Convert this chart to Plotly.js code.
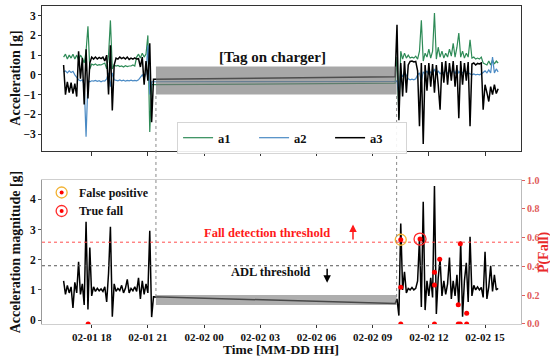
<!DOCTYPE html>
<html><head><meta charset="utf-8">
<script src="https://cdn.plot.ly/plotly-3.0.1.min.js"></script>
<style>html,body{margin:0;padding:0;background:#fff}#chart{width:550px;height:358px}</style>
</head><body><div id="chart"></div>
<script>
// time in hours since 02-01 00:00
const hours = [16.5,16.6,16.7,16.8,16.9,17.0,17.1,17.2,17.3,17.4,17.5,17.6,17.7,17.8,17.9,18.0,18.1,18.2,18.3,18.4,18.5,18.6,18.7,18.8,18.9,19.0,19.1,19.2,19.3,19.4,19.5,19.6,19.7,19.8,19.9,20.0,20.1,20.2,20.3,20.4,20.5,20.6,20.7,20.8,20.9,21.0,21.1,21.2,
  21.3,34.2,
  34.3,34.4,34.5,34.6,34.7,34.8,34.9,35.0,35.1,35.2,35.3,35.4,35.5,35.6,35.7,35.8,35.9,36.0,36.1,36.2,36.3,36.4,36.5,36.6,36.7,36.8,36.9,37.0,37.1,37.2,37.3,37.4,37.5,37.6,37.7,37.8,37.9,38.0,38.1,38.2,38.3,38.4,38.5,38.6,38.7,38.8,38.9,39.0,39.1,39.2,39.3,39.4,39.5,39.6,39.7];

const a1 = [0.9,1.05,0.8,1.0,0.85,1.05,0.8,1.0,0.75,1.0,0.85,0.6,1.2,2.46,0.3,0.55,0.5,0.55,0.48,0.52,0.5,0.55,0.6,0.3,1.0,2.76,0.3,0.5,0.45,0.48,0.42,0.45,0.4,0.46,0.42,0.45,0.45,0.5,0.45,0.9,1.05,0.85,1.1,0.9,1.05,2.0,-2.9,-0.5,
  -0.5,-0.42,
  0.9,-2.2,1.2,0.8,1.1,0.85,1.0,0.85,0.9,0.85,0.95,0.8,1.2,2.76,0.7,1.1,0.9,1.3,0.85,1.2,3.14,0.8,1.4,0.9,1.2,0.85,1.1,0.9,1.3,0.95,1.6,0.9,1.4,2.12,0.9,1.2,0.85,1.1,0.9,1.78,0.85,0.9,0.8,0.85,0.8,0.9,0.6,0.55,0.5,0.7,0.5,0.75,0.55,0.7,0.6];

const a2 = [0.15,0.2,0.1,0.2,0.12,0.18,0.0,-0.15,-0.25,-0.3,-0.25,-0.5,-3.13,-0.3,-0.35,-0.3,-0.32,-0.28,-0.33,-0.3,-0.35,-0.3,-0.32,-0.2,0.1,-0.6,0.1,-0.25,-0.28,-0.3,-0.26,-0.3,-0.27,-0.32,-0.28,-0.3,-0.27,-0.3,-0.28,-0.3,-0.25,-0.1,0.0,-0.15,0.05,1.5,-1.0,-0.35,
  -0.35,-0.33,
  -0.3,-1.0,0.1,-0.1,0.15,-0.05,-0.2,-0.25,-0.22,-0.25,-0.2,0.0,0.1,-0.3,0.15,0.05,0.2,0.0,0.15,0.05,0.3,0.0,0.2,0.05,0.15,0.1,0.25,0.05,0.2,0.1,0.25,0.05,0.3,0.1,0.2,0.1,0.2,0.15,0.1,0.05,0.0,0.05,0.0,0.03,0.0,0.05,0.15,0.2,0.1,0.25,0.1,0.9,0.1,0.3,0.15];

const a3 = [0.5,-1.0,-0.35,-0.9,-0.4,-0.95,-0.45,-1.1,1.2,-0.2,0.85,-1.5,1.3,-1.2,0.6,0.9,0.8,0.9,0.8,0.88,0.82,0.9,0.7,1.0,-1.0,1.5,-1.8,0.5,0.85,0.8,0.9,0.82,0.88,0.8,0.9,0.78,0.85,0.8,0.86,0.8,0.82,0.4,0.9,-0.5,0.7,-0.3,1.6,-2.4,
  -0.22,-0.1,
  2.54,-2.3,0.6,-1.1,0.7,-0.9,0.5,0.68,0.7,0.65,0.68,0.2,-2.6,0.6,-3.5,0.5,-0.8,0.6,-0.6,0.55,-0.9,0.5,-0.5,-1.77,0.65,-0.4,0.7,-0.5,0.6,-0.3,0.7,-0.6,0.5,-2.2,0.7,-0.5,0.6,-0.3,0.65,-2.6,0.55,0.6,0.5,0.58,0.55,0.6,-1.77,-0.5,-0.9,-1.35,-0.6,-1.0,-0.5,-0.95,-0.7];

const magnitude = [1.3,0.85,1.15,0.9,1.1,0.4,1.25,0.9,1.93,0.85,1.2,0.5,3.26,0.35,2.4,0.8,1.1,0.95,1.05,0.97,1.03,0.95,1.1,0.6,1.55,3.09,0.11,1.2,0.95,1.05,0.98,1.15,0.9,1.05,1.35,0.9,1.05,0.97,1.1,0.95,1.4,0.7,1.3,0.85,1.2,0.9,2.96,0.1,
  0.77,0.55,
  0.7,0.15,3.2,1.0,1.6,0.9,1.05,1.0,1.08,1.0,1.05,1.3,2.7,0.43,3.92,0.33,1.3,0.8,1.4,0.75,4.44,0.2,1.4,2.0,0.8,1.3,0.85,1.2,2.07,0.7,1.3,0.8,1.5,0.45,2.6,0.11,1.3,1.9,0.6,2.76,0.8,1.15,1.0,1.1,1.0,1.08,0.75,2.26,0.7,1.1,1.8,0.95,1.5,1.0,1.05];

// fall probability outputs
const pHours = [17.81,34.5,34.5,34.5,35.53,36.3,36.3,36.3,36.58,37.57,37.57,37.68,37.68,38.02,38.02];
const pFall  = [0,0.585,0.255,0,0.59,0.27,0.36,0,0.45,0.134,0,0.557,0,0.074,0];
const falsePosHours = [34.5];  const falsePosP = [0.585];
const trueFallHours = [35.53]; const trueFallP = [0.59];

const fallThreshold = 2.58;
const adlThreshold = 1.8;
const chargerStart = 21.43, chargerEnd = 34.28;

const tickHours = [18,21,24,27,30,33,36,39];
const tickLabels = ['02-01 18','02-01 21','02-02 00','02-02 03','02-02 06','02-02 09','02-02 12','02-02 15'];
const pTicks = [0,0.2,0.4,0.6,0.8,1.0];
const pTickLabels = ['0.0','0.2','0.4','0.6','0.8','1.0'];

const T0 = Date.UTC(2021,1,1);
const toX = h => T0 + h*3600000;
const X = hours.map(toX);
const SERIF = 'Liberation Serif, Times New Roman, serif';
const bold = (s, c) => ({family:SERIF, size:s, weight:'bold', color:c||'#111'});

const traces = [
  {x:X, y:a1, xaxis:'x2', yaxis:'y2', type:'scatter', mode:'lines', name:'a1', line:{color:'#2e8b57', width:1.2}},
  {x:X, y:a2, xaxis:'x2', yaxis:'y2', type:'scatter', mode:'lines', name:'a2', line:{color:'#4a8ac4', width:1.2}},
  {x:X, y:a3, xaxis:'x2', yaxis:'y2', type:'scatter', mode:'lines', name:'a3', line:{color:'#000000', width:1.5}},
  {x:X, y:magnitude, xaxis:'x', yaxis:'y', type:'scatter', mode:'lines', showlegend:false, line:{color:'#000', width:1.5}},
  {x:pHours.map(toX), y:pFall, xaxis:'x', yaxis:'y3', type:'scatter', mode:'markers', showlegend:false, marker:{color:'#ff0000', size:5}},
  {x:falsePosHours.map(toX), y:falsePosP, xaxis:'x', yaxis:'y3', type:'scatter', mode:'markers', showlegend:false, marker:{symbol:'circle-open', color:'#f2b233', size:11, line:{width:1.3}}},
  {x:trueFallHours.map(toX), y:trueFallP, xaxis:'x', yaxis:'y3', type:'scatter', mode:'markers', showlegend:false, marker:{symbol:'circle-open', color:'#ff2a2a', size:12, line:{width:1.3}}}
];

const xr = [toX(15.347), toX(40.92)];
const ann = (text, x, y, font, extra) => Object.assign({text, xref:'paper', yref:'paper', x, y, xanchor:'center', yanchor:'middle', showarrow:false, font}, extra||{});
const layout = {
  width:550, height:358,
  margin:{l:42, r:29, t:6, b:34},
  paper_bgcolor:'#fff', plot_bgcolor:'#fff',
  font:bold(12),
  showlegend:true,
  legend:{x:0.282, y:0.635, xanchor:'left', yanchor:'top', orientation:'h', bordercolor:'#d5d5d5', borderwidth:1, bgcolor:'rgba(255,255,255,0.9)', font:bold(12.5), entrywidth:31, entrywidthmode:'pixels', tracegroupgap:0},
  xaxis:{type:'date', domain:[0,1], anchor:'y', range:xr, tickvals:tickHours.map(toX), ticktext:tickLabels, ticks:'outside', ticklen:3, tickcolor:'#333', showline:true, linecolor:'#cfcfcf', mirror:true, showgrid:false, zeroline:false, tickfont:bold(11)},
  xaxis2:{type:'date', domain:[0,1], anchor:'y2', range:xr, tickvals:tickHours.map(toX), showticklabels:false, ticks:'outside', ticklen:4, tickcolor:'#333', showline:true, linecolor:'#333', mirror:true, showgrid:false, zeroline:false},
  yaxis:{domain:[0,0.4528], anchor:'x', range:[-0.13,4.64], tickvals:[0,1,2,3,4], ticks:'outside', ticklen:3, tickcolor:'#555', showline:true, linecolor:'#999', showgrid:false, zeroline:false, tickfont:bold(11.5)},
  yaxis2:{domain:[0.544,1], anchor:'x2', range:[-3.86,3.49], tickvals:[-3,-2,-1,0,1,2,3], ticktext:['\u22123','\u22122','\u22121','0','1','2','3'], ticks:'outside', ticklen:3, tickcolor:'#333', showline:true, linecolor:'#333', mirror:true, showgrid:false, zeroline:false, tickfont:bold(11.5)},
  yaxis3:{overlaying:'y', side:'right', anchor:'x', range:[0,1], tickvals:pTicks, ticktext:pTickLabels, ticks:'outside', ticklen:3, tickcolor:'#e06060', showline:true, linecolor:'#bbb', showgrid:false, zeroline:false, tickfont:{family:SERIF, size:10, color:'#e05a5a'}},
  shapes:[
    {type:'rect', xref:'x2', yref:'y2', x0:toX(chargerStart), x1:toX(chargerEnd), y0:-1.0, y1:0.42, fillcolor:'rgba(120,120,120,0.65)', line:{width:0}, layer:'above'},
    {type:'rect', xref:'x', yref:'y', x0:toX(chargerStart), x1:toX(chargerEnd), y0:0.5, y1:0.83, fillcolor:'rgba(120,120,120,0.6)', line:{width:0}, layer:'above'},
    {type:'line', xref:'x', yref:'paper', x0:toX(chargerStart), x1:toX(chargerStart), y0:0.085, y1:0.72, line:{color:'#888', width:1, dash:'dot'}},
    {type:'line', xref:'x', yref:'paper', x0:toX(chargerEnd), x1:toX(chargerEnd), y0:0.085, y1:0.72, line:{color:'#888', width:1, dash:'dot'}},
    {type:'line', xref:'paper', yref:'y', x0:0, x1:1, y0:fallThreshold, y1:fallThreshold, line:{color:'#ff4d4d', width:1, dash:'dot'}},
    {type:'line', xref:'paper', yref:'y', x0:0, x1:1, y0:adlThreshold, y1:adlThreshold, line:{color:'#555', width:1, dash:'dot'}},
    // bottom legend symbols
    {type:'circle', xref:'paper', yref:'paper', xsizemode:'pixel', ysizemode:'pixel', xanchor:0.041, yanchor:0.4135, x0:-5.5, x1:5.5, y0:-5.5, y1:5.5, line:{color:'#f2b233', width:1.3}},
    {type:'circle', xref:'paper', yref:'paper', xsizemode:'pixel', ysizemode:'pixel', xanchor:0.041, yanchor:0.4135, x0:-2, x1:2, y0:-2, y1:2, fillcolor:'#ff0000', line:{width:0}},
    {type:'circle', xref:'paper', yref:'paper', xsizemode:'pixel', ysizemode:'pixel', xanchor:0.041, yanchor:0.3553, x0:-5.5, x1:5.5, y0:-5.5, y1:5.5, line:{color:'#ff2a2a', width:1.3}},
    {type:'circle', xref:'paper', yref:'paper', xsizemode:'pixel', ysizemode:'pixel', xanchor:0.041, yanchor:0.3553, x0:-2, x1:2, y0:-2, y1:2, fillcolor:'#ff0000', line:{width:0}}
  ],
  annotations:[
    {text:'[Tag on charger]', xref:'x2', yref:'y2', x:toX(27.63), y:0.93, xanchor:'center', yanchor:'middle', showarrow:false, font:bold(15)},
    {text:'Fall detection threshold', xref:'x', yref:'y', x:toX(27.36), y:2.88, xanchor:'center', yanchor:'middle', showarrow:false, font:bold(12.5,'#ff1a1a')},
    {text:'ADL threshold', xref:'x', yref:'y', x:toX(27.57), y:1.59, xanchor:'center', yanchor:'middle', showarrow:false, font:bold(12.5)},
    {text:'', xref:'x', yref:'y', axref:'x', ayref:'y', x:toX(31.95), y:3.17, ax:toX(31.95), ay:2.62, showarrow:true, arrowhead:2, arrowsize:1, arrowwidth:1.5, arrowcolor:'#ff1a1a'},
    {text:'', xref:'x', yref:'y', axref:'x', ayref:'y', x:toX(30.57), y:1.24, ax:toX(30.57), ay:1.75, showarrow:true, arrowhead:2, arrowsize:1, arrowwidth:1.5, arrowcolor:'#000'},
    ann('False positive', 0.073, 0.4135, bold(12), {xanchor:'left'}),
    ann('True fall', 0.073, 0.3553, bold(12), {xanchor:'left'}),
    ann('Acceleration [g]', -0.056, 0.772, bold(14), {textangle:-90}),
    ann('Acceleration magnitude [g]', -0.056, 0.226, bold(14), {textangle:-90}),
    ann('P(Fall)', 1.048, 0.226, bold(14,'#e82a2a'), {textangle:-90}),
    ann('Time [MM-DD HH]', 0.499, -0.0805, bold(13.5))
  ]
};

Plotly.newPlot('chart', traces, layout, {displayModeBar:false, staticPlot:true});
</script>
</body></html>
